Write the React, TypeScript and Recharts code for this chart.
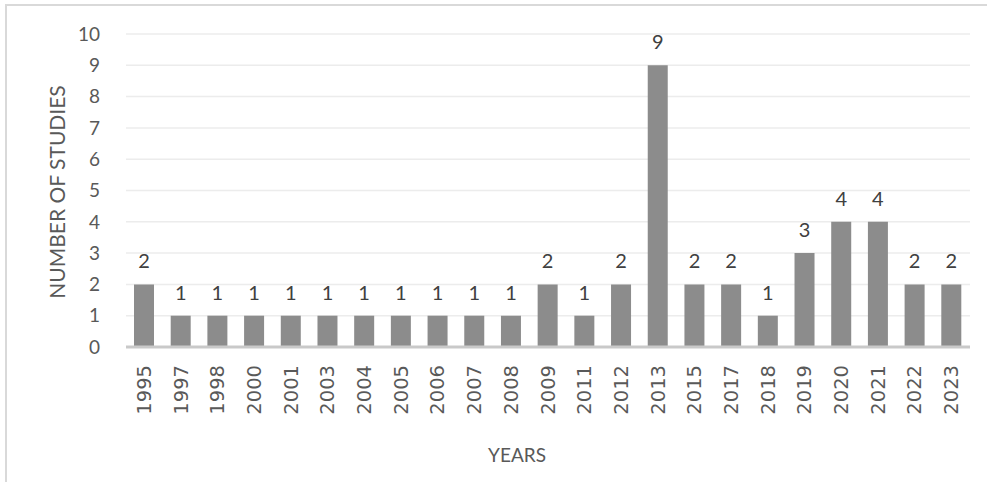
import React from "react";
import { BarChart, Bar, XAxis, YAxis, CartesianGrid, LabelList, Label } from "recharts";

const years = ["1995", "1997", "1998", "2000", "2001", "2003", "2004", "2005", "2006", "2007", "2008", "2009", "2011", "2012", "2013", "2015", "2017", "2018", "2019", "2020", "2021", "2022", "2023"];
const studies = [2, 1, 1, 1, 1, 1, 1, 1, 1, 1, 1, 2, 1, 2, 9, 2, 2, 1, 3, 4, 4, 2, 2];
const yTicks = [0, 1, 2, 3, 4, 5, 6, 7, 8, 9, 10];

const data = years.map((year, i) => ({ year, studies: studies[i] }));

const YearTick = ({ x, y, payload }: any) => (
  <text
    x={x}
    y={y + 16}
    transform={`rotate(-90, ${x}, ${y + 16})`}
    textAnchor="end"
    dominantBaseline="central"
    fontFamily="DejaVu Sans"
    fontSize={19.5}
    fill="#595959"
  >
    {payload.value}
  </text>
);

export default function App() {
  return (
    <div style={{ position: "absolute", left: 0, top: 0, width: 987, height: 482, overflow: "hidden", background: "#fff" }}>
      <div
        style={{
          position: "absolute", left: 5, top: 4, width: 1000, height: 500,
          border: "2px solid #d9d9d9", boxSizing: "border-box",
        }}
      />
      <div style={{ position: "absolute", left: 0, top: 0 }}>
        <BarChart width={987} height={482} data={data} margin={{ top: 34, right: 17, left: 0, bottom: 0 }}>
          <CartesianGrid vertical={false} stroke="#ececec" strokeWidth={1.5} />
          <XAxis
            dataKey="year"
            height={135}
            interval={0}
            tickLine={false}
            tickSize={0}
            axisLine={{ stroke: "#c9c9c9", strokeWidth: 3 }}
            tick={<YearTick />}
          >
            <Label
              content={() => (
                <text x={517} y={454} textAnchor="middle" dominantBaseline="central" fontFamily="Lato" fontSize={19} fill="#595959">
                  YEARS
                </text>
              )}
            />
          </XAxis>
          <YAxis
            width={126}
            domain={[0, 10]}
            ticks={yTicks}
            interval={0}
            axisLine={false}
            tickLine={false}
            tickSize={0}
            tickMargin={26}
            tick={{ fontFamily: "Lato", fontSize: 19, fill: "#595959" }}
          >
            <Label
              content={() => (
                <text
                  x={56}
                  y={192}
                  transform="rotate(-90, 56, 192)"
                  textAnchor="middle"
                  dominantBaseline="central"
                  fontFamily="Lato"
                  fontSize={21}
                  fill="#595959"
                >
                  NUMBER OF STUDIES
                </text>
              )}
            />
          </YAxis>
          <Bar dataKey="studies" fill="#8c8c8c" barSize={20} isAnimationActive={false}>
            <LabelList dataKey="studies" position="top" offset={16} fontFamily="Lato" fontSize={20} fill="#404040" />
          </Bar>
        </BarChart>
      </div>
    </div>
  );
}
